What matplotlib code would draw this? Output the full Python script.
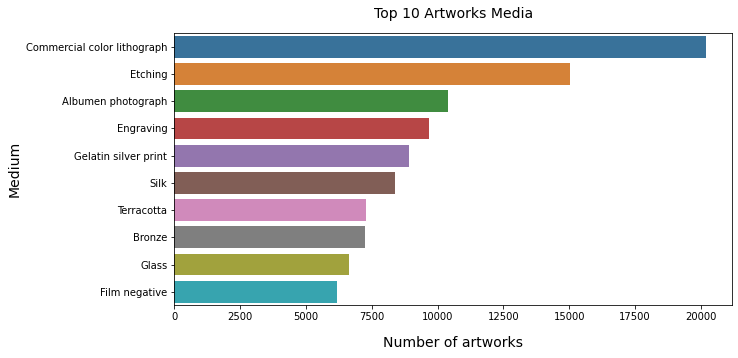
import matplotlib
matplotlib.use("Agg")
import matplotlib.pyplot as plt
import seaborn as sns

# top 10 media by number of artworks
medium = ['Commercial color lithograph', 'Etching', 'Albumen photograph', 'Engraving',
          'Gelatin silver print', 'Silk', 'Terracotta', 'Bronze', 'Glass', 'Film negative']
count = [20190, 15020, 10380, 9690, 8930, 8400, 7290, 7255, 6645, 6190]

fig = plt.figure(figsize=(738 / 72, 358 / 72), dpi=72)
ax = fig.add_axes([0.2362, 0.1472, 0.9923 - 0.2362, 0.907 - 0.1472])

sns.barplot(x=count, y=medium, hue=medium, palette='tab10', saturation=0.65,
            legend=False, ax=ax)

ax.set_title('Top 10 Artworks Media', fontsize=14, pad=15)
ax.set_xlabel('Number of artworks', fontsize=14, labelpad=14)
ax.set_ylabel('Medium', fontsize=14)
ax.tick_params(labelsize=10)

fig.savefig('out.png', dpi=72)
